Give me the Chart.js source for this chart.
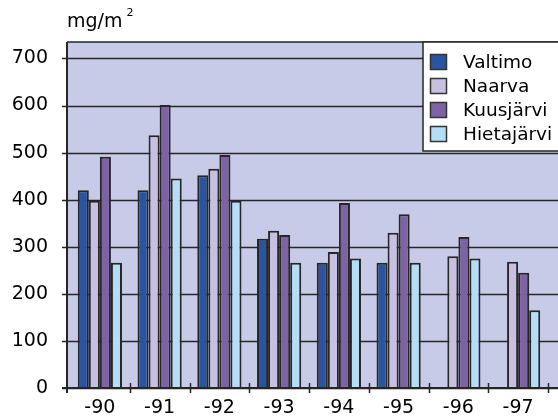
<!DOCTYPE html>
<html>
<head>
<meta charset="utf-8">
<script src="https://cdn.jsdelivr.net/npm/chart.js@4.4.1/dist/chart.umd.min.js"></script>
<style>
  html, body { margin: 0; padding: 0; background: #fff; overflow: hidden; }
  #wrap { width: 558px; height: 416px; }
</style>
</head>
<body>
<div id="wrap"><canvas id="chart"></canvas></div>
<script>
const years = ['-90', '-91', '-92', '-93', '-94', '-95', '-96', '-97'];
const valtimo = [420, 420, 452, 317, 266, 266, null, null];
const naarva = [398, 537, 466, 334, 289, 330, 280, 268];
const kuusjarvi = [491, 601, 495, 325, 393, 369, 321, 245];
const hietajarvi = [266, 445, 398, 266, 275, 266, 275, 165];
const seriesNames = ['Valtimo', 'Naarva', 'Kuusjärvi', 'Hietajärvi'];
const yTicks = [0, 100, 200, 300, 400, 500, 600, 700];
const unitText = 'mg/m';
const unitSup = '2';

const FONT = 'DejaVu Sans';
const LINE = '#262626';
const PLOT_BG = '#c8cbe8';
const colors = ['#2b54a0', '#c8c0e0', '#7e63a4', '#b4ddf6'];
// the y axis sits a few px left of where the first year slot starts
const AXIS_GAP = 3;

// background, gridlines, axes and the legend box are drawn by hand,
// the plot runs off the right edge of the picture like in the scan
const decor = {
  id: 'decor',
  beforeDraw(chart) {
    const { ctx, chartArea: a, width } = chart;
    const left = a.left - AXIS_GAP;
    ctx.save();
    ctx.fillStyle = PLOT_BG;
    ctx.fillRect(left, a.top, width - left, a.bottom - a.top);
    ctx.restore();
  },
  beforeDatasetsDraw(chart) {
    const { ctx, chartArea: a, width, scales: { y } } = chart;
    const left = a.left - AXIS_GAP;
    ctx.save();
    ctx.strokeStyle = LINE;
    ctx.lineWidth = 1.5;
    y.ticks.forEach((t) => {
      const py = Math.round(y.getPixelForValue(t.value)) + 0.5;
      ctx.beginPath();
      ctx.moveTo(left - 5, py);
      ctx.lineTo(width, py);
      ctx.stroke();
    });
    ctx.beginPath();
    ctx.moveTo(left, a.top);
    ctx.lineTo(width, a.top);
    ctx.stroke();
    ctx.restore();
  },
  afterDatasetsDraw(chart) {
    const { ctx, chartArea: a, width, scales: { x } } = chart;
    const left = a.left - AXIS_GAP;
    ctx.save();
    ctx.strokeStyle = LINE;
    ctx.lineWidth = 2;
    ctx.beginPath();
    ctx.moveTo(left, a.top);
    ctx.lineTo(left, a.bottom + 5);
    ctx.moveTo(left - 5, a.bottom);
    ctx.lineTo(width, a.bottom);
    ctx.stroke();
    // tick marks between the years
    const half = (x.getPixelForValue(1) - x.getPixelForValue(0)) / 2;
    ctx.lineWidth = 1.5;
    for (let i = 0; i < years.length; i++) {
      const px = Math.round(x.getPixelForValue(i) + half) + 0.5;
      ctx.beginPath();
      ctx.moveTo(px, a.bottom - 5);
      ctx.lineTo(px, a.bottom + 5);
      ctx.stroke();
    }
    ctx.restore();
  },
  afterDraw(chart) {
    const { ctx, chartArea: a } = chart;
    ctx.save();
    // unit above the y axis
    ctx.fillStyle = '#000';
    ctx.textBaseline = 'middle';
    ctx.font = `19px "${FONT}"`;
    ctx.fillText(unitText, 67, 22);
    const w = ctx.measureText(unitText).width;
    ctx.font = `11px "${FONT}"`;
    ctx.fillText(unitSup, 67 + w + 4, 13);

    // legend
    const lx = 423;
    const ly = a.top;
    ctx.fillStyle = '#fff';
    ctx.fillRect(lx, ly, 200, 109);
    ctx.strokeStyle = LINE;
    ctx.lineWidth = 1.5;
    ctx.strokeRect(lx, ly, 200, 109);
    chart.data.datasets.forEach((ds, i) => {
      const cy = 62 + i * 24;
      ctx.fillStyle = ds.backgroundColor;
      ctx.fillRect(430, cy - 8, 17, 16);
      ctx.strokeStyle = '#333';
      ctx.lineWidth = 1.5;
      ctx.strokeRect(430.5, cy - 7.5, 16, 15);
      ctx.fillStyle = '#000';
      ctx.font = `18.5px "${FONT}"`;
      ctx.textBaseline = 'middle';
      ctx.fillText(ds.label, 463, cy + 1);
    });
    ctx.restore();
  },
};

const seriesData = [valtimo, naarva, kuusjarvi, hietajarvi];

new Chart(document.getElementById('chart'), {
  type: 'bar',
  data: {
    labels: years,
    datasets: seriesNames.map((name, i) => ({
      label: name,
      data: seriesData[i],
      backgroundColor: colors[i],
      borderColor: LINE,
      borderWidth: 2,
      borderSkipped: 'bottom',
      categoryPercentage: 0.74,
      barPercentage: 1.0,
    })),
  },
  options: {
    responsive: true,
    maintainAspectRatio: false,
    animation: false,
    layout: {
      padding: { top: 42, right: 10, left: AXIS_GAP, bottom: 0 },
    },
    plugins: {
      legend: { display: false },
      tooltip: { enabled: false },
    },
    scales: {
      x: {
        grid: { display: false },
        border: { display: false },
        ticks: {
          color: '#000',
          padding: 1,
          maxRotation: 0,
          font: { family: FONT, size: 19 },
        },
        afterFit(scale) {
          scale.height = 28;
        },
      },
      y: {
        min: 0,
        max: 735,
        grid: { display: false },
        border: { display: false },
        ticks: {
          stepSize: 100,
          color: '#000',
          padding: 14,
          font: { family: FONT, size: 19 },
        },
        afterBuildTicks(scale) {
          scale.ticks = yTicks.map((v) => ({ value: v }));
        },
        afterFit(scale) {
          scale.width = 67;
        },
      },
    },
  },
  plugins: [decor],
});
</script>
</body>
</html>
